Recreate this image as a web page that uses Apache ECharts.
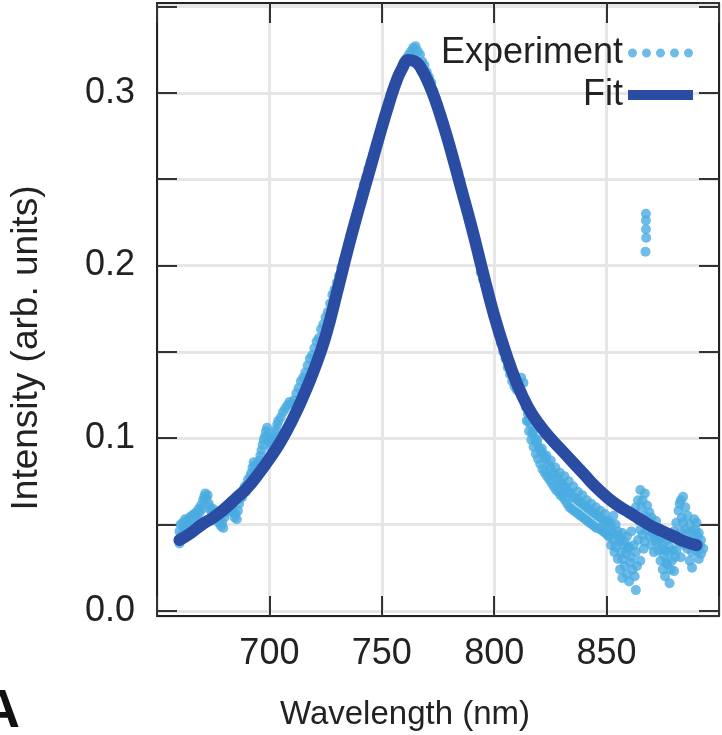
<!DOCTYPE html>
<html>
<head>
<meta charset="utf-8">
<script src="https://cdn.jsdelivr.net/npm/echarts@6/dist/echarts.min.js"></script>
<style>
  html, body { margin: 0; padding: 0; background: #fff; }
  #chart { width: 722px; height: 735px; }
</style>
</head>
<body>
<div id="chart"></div>
<script>
// fitted curve
const fitWavelength = [660, 665, 670, 675, 680, 685, 690, 695, 700, 705, 710, 715, 720, 725, 730, 735, 740, 745, 750, 753, 756, 759, 762, 765, 768, 771, 774, 777, 780, 785, 790, 795, 800, 805, 810, 815, 820, 825, 830, 835, 840, 845, 850, 855, 860, 865, 870, 875, 880, 885, 890];
const fitIntensity = [0.041, 0.045, 0.050, 0.054, 0.059, 0.065, 0.071, 0.079, 0.088, 0.098, 0.110, 0.124, 0.140, 0.159, 0.184, 0.210, 0.234, 0.257, 0.280, 0.293, 0.305, 0.314, 0.319, 0.318, 0.313, 0.305, 0.295, 0.283, 0.270, 0.246, 0.222, 0.196, 0.171, 0.150, 0.132, 0.118, 0.108, 0.100, 0.093, 0.086, 0.079, 0.072, 0.066, 0.061, 0.057, 0.053, 0.049, 0.046, 0.043, 0.040, 0.038];

// measured points [wavelength, intensity]
const expPoints = [
  [660, 0.039], [660, 0.046], [660.5, 0.050], [661, 0.044], [661.5, 0.051], [662, 0.048], [662.5, 0.053], [663, 0.046],
  [663.5, 0.052], [664, 0.049], [664.5, 0.054], [665, 0.050], [665.5, 0.055], [666, 0.052], [666.5, 0.056], [667, 0.053],
  [667.5, 0.057], [668, 0.054], [668.5, 0.059], [669, 0.057], [669.5, 0.061], [670, 0.059], [670.5, 0.064], [671, 0.066],
  [671.5, 0.068], [672, 0.065], [672.5, 0.067], [673, 0.062], [673.5, 0.060], [674, 0.058], [674.5, 0.056], [675, 0.059],
  [675.5, 0.055], [676, 0.057], [676.5, 0.053], [677, 0.055], [677.5, 0.051], [678, 0.053], [678.5, 0.049], [679, 0.051],
  [679.5, 0.048], [680, 0.054], [680.5, 0.057], [681, 0.060], [681.5, 0.058], [682, 0.061], [682.5, 0.058], [683, 0.063],
  [683.5, 0.060], [684, 0.057], [684.5, 0.054], [685, 0.056], [685.5, 0.053], [686, 0.058], [686.5, 0.062], [687, 0.065],
  [687.5, 0.068], [688, 0.066], [688.5, 0.070], [689, 0.072], [689.5, 0.069], [690, 0.073], [690.5, 0.076], [691, 0.074],
  [691.5, 0.078], [692, 0.080], [692.5, 0.083], [693, 0.086], [693.5, 0.084], [694, 0.082], [694.5, 0.085], [695, 0.083],
  [695.5, 0.087], [696, 0.090], [696.5, 0.093], [697, 0.096], [697.5, 0.099], [698, 0.101], [698.5, 0.104], [699, 0.106],
  [699.5, 0.101], [700, 0.098], [700.5, 0.095], [701, 0.097], [701.5, 0.100], [702, 0.099], [702.5, 0.103], [703, 0.105],
  [703.5, 0.108], [704, 0.110], [705, 0.112], [706, 0.115], [707, 0.117], [708, 0.119], [709, 0.121], [710, 0.120],
  [711, 0.122], [712, 0.126], [713, 0.129], [714, 0.133], [715, 0.135], [716, 0.138], [717, 0.142], [718, 0.146],
  [719, 0.148], [720, 0.152], [721, 0.156], [722, 0.158], [723, 0.163], [724, 0.166], [725, 0.170], [726, 0.173],
  [727, 0.178], [728, 0.183], [729, 0.186], [730, 0.190], [731, 0.194], [732, 0.199], [733, 0.203], [734, 0.207],
  [735, 0.212], [736, 0.217], [737, 0.221], [738, 0.226], [739, 0.231], [740, 0.236], [741, 0.242], [742, 0.247],
  [743, 0.251], [744, 0.256], [745, 0.260], [746, 0.263], [747, 0.268], [748, 0.272], [749, 0.277], [750, 0.281],
  [751, 0.285], [752, 0.289], [753, 0.293], [754, 0.297], [755, 0.301], [756, 0.304], [757, 0.308], [758, 0.311],
  [759, 0.314], [760, 0.317], [761, 0.320], [762, 0.322], [763, 0.324], [764, 0.326], [765, 0.327], [766, 0.324],
  [767, 0.322], [768, 0.318], [769, 0.316], [770, 0.312], [771, 0.309], [772, 0.306], [773, 0.301], [774, 0.297],
  [775, 0.293], [776, 0.288], [777, 0.284], [778, 0.279], [779, 0.275], [780, 0.270], [781, 0.266], [782, 0.262],
  [783, 0.258], [784, 0.254], [785, 0.249], [786, 0.243], [787, 0.237], [788, 0.232], [789, 0.227], [790, 0.222],
  [791, 0.217], [792, 0.212], [793, 0.205], [794, 0.196], [795, 0.192], [796, 0.189], [797, 0.186], [798, 0.180],
  [799, 0.175], [800, 0.170], [801, 0.165], [802, 0.160], [803, 0.155], [804, 0.150], [805, 0.146], [806, 0.141],
  [807, 0.137], [808, 0.133], [809, 0.130], [810, 0.128], [811, 0.130], [812, 0.135], [813, 0.132], [814, 0.118],
  [814.5, 0.110], [815, 0.114], [815.2, 0.110], [815.5, 0.104], [816, 0.108], [816.5, 0.099], [817, 0.103], [817.2, 0.104],
  [817.5, 0.095], [818, 0.100], [818.5, 0.091], [819, 0.097], [819.2, 0.099], [819.5, 0.088], [820, 0.094], [820.5, 0.085],
  [821, 0.092], [821.2, 0.094], [821.5, 0.082], [822, 0.090], [822.5, 0.080], [823, 0.088], [823.2, 0.090], [823.5, 0.078],
  [824, 0.085], [824.5, 0.076], [825, 0.083], [825.2, 0.087], [825.5, 0.074], [826, 0.080], [826.5, 0.072], [827, 0.079],
  [827.2, 0.083], [827.5, 0.070], [828, 0.077], [828.5, 0.069], [829, 0.075], [829.2, 0.080], [829.5, 0.067], [830, 0.074],
  [830.5, 0.066], [831, 0.072], [831.2, 0.078], [831.5, 0.064], [832, 0.071], [832.5, 0.062], [833, 0.069], [833.2, 0.075],
  [833.5, 0.060], [834, 0.068], [834.5, 0.059], [835, 0.066], [835.2, 0.072], [835.5, 0.058], [836, 0.065], [836.5, 0.057],
  [837, 0.064], [837.2, 0.069], [837.5, 0.056], [838, 0.063], [838.5, 0.055], [839, 0.062], [839.2, 0.067], [839.5, 0.054],
  [840, 0.061], [840.5, 0.053], [841, 0.060], [841.2, 0.064], [841.5, 0.052], [842, 0.059], [842.5, 0.051], [843, 0.058],
  [843.2, 0.062], [843.5, 0.050], [844, 0.057], [844.5, 0.049], [845, 0.056], [845.2, 0.060], [845.5, 0.048], [846, 0.055],
  [846.5, 0.048], [847, 0.054], [847.2, 0.058], [847.5, 0.047], [848, 0.053], [848.5, 0.046], [849, 0.052], [849.2, 0.056],
  [849.5, 0.045], [850, 0.051], [850.5, 0.044], [851, 0.052], [851, 0.043], [851.5, 0.048], [852, 0.050], [852, 0.038],
  [852.5, 0.045], [853, 0.055], [853, 0.041], [853.5, 0.034], [854, 0.050], [854, 0.037], [854.5, 0.044], [855, 0.046],
  [855, 0.030], [855.5, 0.040], [856, 0.042], [856, 0.024], [856.5, 0.034], [857, 0.045], [857, 0.030], [857, 0.019],
  [857.5, 0.038], [858, 0.040], [858, 0.026], [858.5, 0.033], [859, 0.043], [859, 0.021], [859.5, 0.036], [860, 0.037],
  [860, 0.017], [860.5, 0.028], [861, 0.046], [861, 0.031], [861.5, 0.024], [862, 0.056], [862, 0.038], [862.5, 0.020],
  [863, 0.060], [863, 0.012], [863, 0.034], [863.5, 0.026], [864, 0.064], [864, 0.041], [864.5, 0.052], [865, 0.070],
  [865, 0.047], [865, 0.029], [865.5, 0.060], [866, 0.064], [866, 0.044], [866.5, 0.036], [867, 0.068], [867, 0.055],
  [867, 0.040], [867.5, 0.230], [867.5, 0.226], [867.5, 0.221], [867.6, 0.216], [867.3, 0.208], [868, 0.061], [868, 0.047],
  [868.5, 0.053], [869, 0.057], [869, 0.043], [869.5, 0.050], [870, 0.054], [870, 0.038], [870.5, 0.045], [871, 0.048],
  [871, 0.034], [871.5, 0.042], [872, 0.052], [872, 0.040], [872.5, 0.046], [873, 0.048], [873, 0.035], [873.5, 0.041],
  [874, 0.043], [874, 0.029], [874.5, 0.036], [875, 0.039], [875, 0.024], [875.5, 0.032], [876, 0.035], [876, 0.020],
  [876.5, 0.028], [877, 0.041], [877, 0.027], [877.5, 0.034], [878, 0.037], [878, 0.016], [878.5, 0.024], [879, 0.042],
  [879, 0.029], [879.5, 0.035], [880, 0.046], [880, 0.023], [880.5, 0.031], [881, 0.051], [881, 0.035], [881.5, 0.043],
  [882, 0.058], [882, 0.040], [882.5, 0.062], [883, 0.064], [883, 0.046], [883, 0.031], [883.5, 0.054], [884, 0.066],
  [884, 0.051], [884.5, 0.038], [885, 0.060], [885, 0.047], [885.5, 0.041], [886, 0.055], [886, 0.036], [886.5, 0.045],
  [887, 0.050], [887, 0.029], [887.5, 0.038], [888, 0.046], [888, 0.034], [888, 0.025], [888.5, 0.041], [889, 0.053],
  [889, 0.039], [889.5, 0.047], [890, 0.051], [890, 0.035], [890.5, 0.043], [891, 0.045], [891, 0.030], [891.5, 0.038],
  [892, 0.041], [892, 0.033], [893, 0.036]
];

const xTicks = [700, 750, 800, 850];

const FONT = '"Liberation Sans", Arial, Helvetica, sans-serif';
const expColor = '#4aabe1';
const fitColor = '#2a4ca3';

// five dots for the Experiment legend key
const dotsIcon = 'path://M0,4.5a4.5,4.5 0 1,0 9,0a4.5,4.5 0 1,0 -9,0' +
  'M14,4.5a4.5,4.5 0 1,0 9,0a4.5,4.5 0 1,0 -9,0' +
  'M28,4.5a4.5,4.5 0 1,0 9,0a4.5,4.5 0 1,0 -9,0' +
  'M42,4.5a4.5,4.5 0 1,0 9,0a4.5,4.5 0 1,0 -9,0' +
  'M56,4.5a4.5,4.5 0 1,0 9,0a4.5,4.5 0 1,0 -9,0';

const chart = echarts.init(document.getElementById('chart'), null, { renderer: 'canvas' });

const frameLine = { show: true, onZero: false, lineStyle: { color: '#222', width: 2 } };
const innerTick = { show: true, inside: true, length: 20, lineStyle: { color: '#333', width: 2 } };

const option = {
  animation: false,
  backgroundColor: '#fff',
  grid: { left: 157, right: 1, top: 3, bottom: 119, containLabel: false },
  xAxis: [
    {
      type: 'value', min: 650, max: 900, interval: 50, position: 'bottom',
      axisLine: frameLine,
      axisTick: innerTick,
      axisLabel: {
        fontSize: 36, fontFamily: FONT, color: '#222', margin: 20,
        formatter: v => (xTicks.indexOf(v) >= 0 ? String(v) : '')
      },
      splitLine: { show: true, lineStyle: { color: '#e6e6e6', width: 3 } }
    },
    {
      type: 'value', min: 650, max: 900, interval: 50, position: 'top',
      axisLine: frameLine, axisTick: innerTick,
      axisLabel: { show: false }, splitLine: { show: false }
    }
  ],
  yAxis: [
    {
      type: 'value', min: -0.003, max: 0.352, splitNumber: 7, position: 'left',
      axisLine: frameLine, axisTick: innerTick,
      axisLabel: {
        fontSize: 36, fontFamily: FONT, color: '#222', margin: 22,
        showMinLabel: false, showMaxLabel: false,
        formatter: v => {
          const t = v * 10;
          return Math.abs(t - Math.round(t)) < 1e-6 ? v.toFixed(1) : '';
        }
      },
      splitLine: { show: true, lineStyle: { color: '#e6e6e6', width: 3 } }
    },
    {
      type: 'value', min: -0.003, max: 0.352, splitNumber: 7, position: 'right',
      axisLine: frameLine, axisTick: innerTick,
      axisLabel: { show: false }, splitLine: { show: false }
    }
  ],
  legend: {
    orient: 'vertical', right: 24, top: 27, align: 'right',
    itemWidth: 65, itemHeight: 10, itemGap: 0,
    selectedMode: false,
    textStyle: { fontSize: 36, fontFamily: FONT, color: '#222', lineHeight: 42 },
    data: [
      { name: 'Experiment', icon: dotsIcon },
      { name: 'Fit', icon: 'rect' }
    ]
  },
  graphic: [
    {
      type: 'text', x: 27, y: 348, rotation: Math.PI / 2,
      style: { text: 'Intensity (arb. units)', fontSize: 37, fontFamily: FONT, fill: '#222', align: 'center', verticalAlign: 'middle' }
    },
    {
      type: 'text', x: 405, y: 715,
      style: { text: 'Wavelength (nm)', fontSize: 33, fontFamily: FONT, fill: '#222', align: 'center', verticalAlign: 'middle' }
    },
    {
      type: 'text', x: -19, y: 712,
      style: { text: 'A', fontSize: 54, fontWeight: 'bold', fontFamily: FONT, fill: '#111', align: 'left', verticalAlign: 'middle' }
    }
  ],
  series: [
    {
      name: 'Experiment', type: 'scatter',
      data: expPoints,
      symbol: 'circle', symbolSize: 10,
      itemStyle: { color: expColor },
      z: 2
    },
    {
      name: 'Fit', type: 'line',
      data: fitWavelength.map((w, i) => [w, fitIntensity[i]]),
      showSymbol: false, smooth: 0.5,
      lineStyle: { color: fitColor, width: 12, cap: 'round' },
      itemStyle: { color: fitColor },
      z: 3
    }
  ]
};

chart.setOption(option);
</script>
</body>
</html>
